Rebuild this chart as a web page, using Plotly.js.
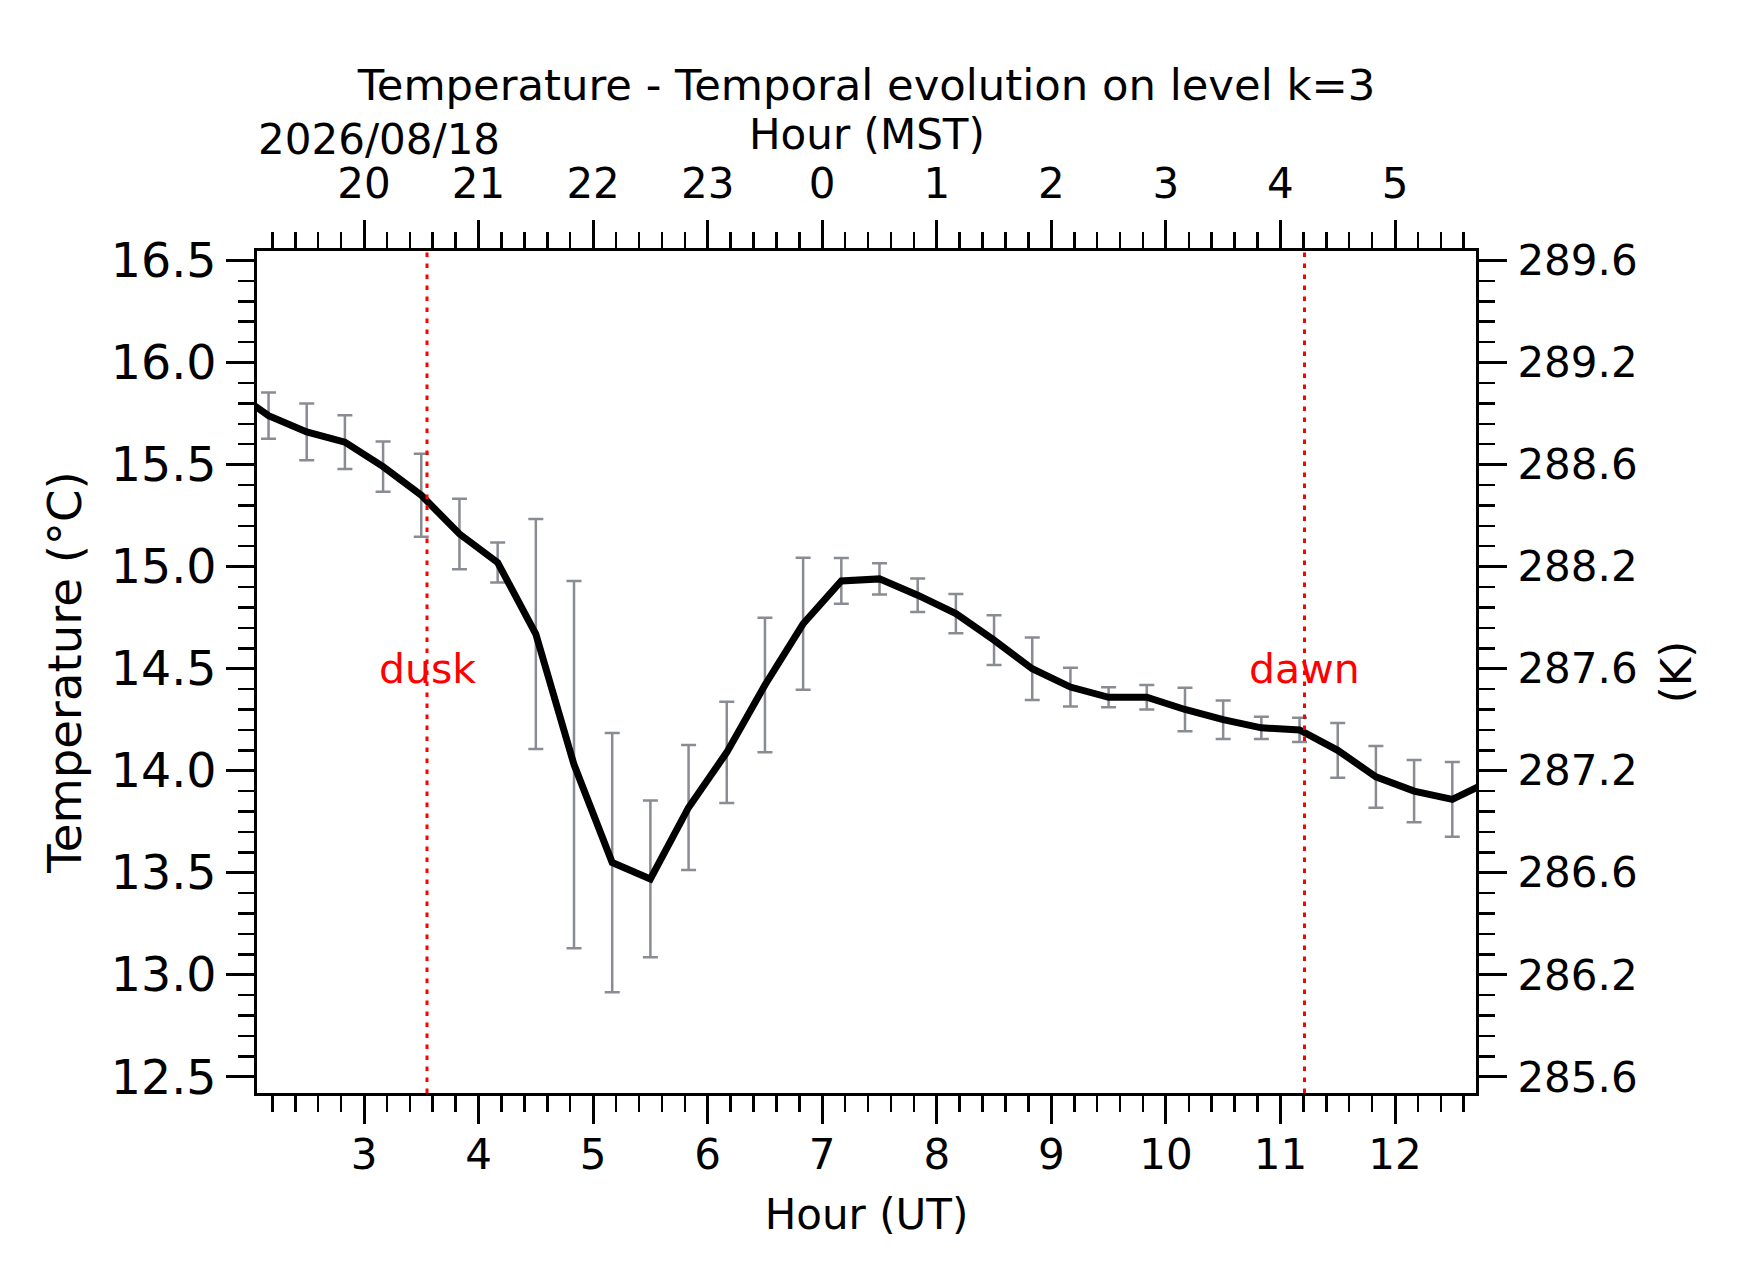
<!DOCTYPE html>
<html>
<head>
<meta charset="utf-8">
<script src="https://cdn.plot.ly/plotly-3.0.1.min.js"></script>
<style>
  html, body { margin: 0; padding: 0; background: #ffffff; }
  #chart { width: 1742px; height: 1282px; }
</style>
</head>
<body>
<div id="chart"></div>
<script>
// ---- data ----
const hoursUT = [1.8333, 2.1667, 2.5, 2.8333, 3.1667, 3.5, 3.8333, 4.1667, 4.5, 4.8333,
                 5.1667, 5.5, 5.8333, 6.1667, 6.5, 6.8333, 7.1667, 7.5, 7.8333, 8.1667,
                 8.5, 8.8333, 9.1667, 9.5, 9.8333, 10.1667, 10.5, 10.8333, 11.1667, 11.5,
                 11.8333, 12.1667, 12.5, 12.8333];
const tempC = [15.87, 15.74, 15.66, 15.61, 15.49, 15.35, 15.16, 15.02, 14.67, 14.03,
               13.55, 13.47, 13.82, 14.09, 14.42, 14.72, 14.93, 14.94, 14.86, 14.77,
               14.64, 14.50, 14.41, 14.36, 14.36, 14.30, 14.25, 14.21, 14.20, 14.10,
               13.97, 13.90, 13.86, 13.95];
const tempErr = [0, 0.113, 0.139, 0.132, 0.123, 0.203, 0.173, 0.098, 0.563, 0.90,
                 0.635, 0.384, 0.306, 0.248, 0.329, 0.323, 0.112, 0.076, 0.082, 0.096,
                 0.122, 0.153, 0.095, 0.049, 0.060, 0.106, 0.094, 0.054, 0.059, 0.134,
                 0.151, 0.152, 0.183, 0];

const utTickVals = [3, 4, 5, 6, 7, 8, 9, 10, 11, 12];
const utTickText = ['3', '4', '5', '6', '7', '8', '9', '10', '11', '12'];
const mstTickText = ['20', '21', '22', '23', '0', '1', '2', '3', '4', '5'];
const cTickVals = [12.5, 13.0, 13.5, 14.0, 14.5, 15.0, 15.5, 16.0, 16.5];
const cTickText = ['12.5', '13.0', '13.5', '14.0', '14.5', '15.0', '15.5', '16.0', '16.5'];
const kTickText = ['285.6', '286.2', '286.6', '287.2', '287.6', '288.2', '288.6', '289.2', '289.6'];

const eventNames = ['dusk', 'dawn'];
const eventHours = [3.55, 11.21];
const eventLabelLevel = 14.5;

const dateLabel = '2026/08/18';
const chartTitle = 'Temperature - Temporal evolution on level k=3';

// ---- chart ----
const FONT = 'DejaVu Sans, Liberation Sans, sans-serif';
const xRange = [2.066, 12.707];
const yRange = [12.421, 16.5465];

const axisCommon = {
  showline: true, linecolor: '#000', linewidth: 3,
  ticks: 'outside', ticklen: 28, tickwidth: 3, tickcolor: '#000',
  showgrid: false, zeroline: false, fixedrange: true
};

const traces = [
  {
    x: hoursUT, y: tempC, type: 'scatter', mode: 'lines',
    line: { color: '#000000', width: 7 },
    error_y: { type: 'data', array: tempErr, visible: true,
               color: '#898c93', thickness: 2.5, width: 7.5 },
    xaxis: 'x', yaxis: 'y', showlegend: false, hoverinfo: 'skip'
  },
  { x: [], y: [], xaxis: 'x2', yaxis: 'y2', type: 'scatter', mode: 'lines', showlegend: false }
];

const shapes = eventHours.map(h => ({
  type: 'line', xref: 'x', yref: 'paper', x0: h, x1: h, y0: 0, y1: 1,
  line: { color: '#ff0000', width: 3, dash: '4.5px,6.5px' }
}));

const annotations = eventNames.map((n, i) => ({
  text: n, x: eventHours[i], y: eventLabelLevel, xref: 'x', yref: 'y',
  showarrow: false, xanchor: 'center', yanchor: 'middle',
  font: { family: FONT, size: 41, color: '#ff0000' }
}));
annotations.push({
  text: dateLabel, xref: 'paper', yref: 'paper', x: 0, y: 1.1325,
  xanchor: 'left', yanchor: 'middle', showarrow: false, borderpad: 0,
  font: { family: FONT, size: 42, color: '#000' }
});
annotations.push({
  text: 'Hour (MST)', xref: 'paper', yref: 'paper', x: 0.5, y: 1.138,
  xanchor: 'center', yanchor: 'middle', showarrow: false, borderpad: 0,
  font: { family: FONT, size: 42, color: '#000' }
});

const layout = {
  width: 1742, height: 1282,
  margin: { l: 257, r: 266, t: 251, b: 189, pad: 0 },
  paper_bgcolor: '#ffffff', plot_bgcolor: '#ffffff',
  font: { family: FONT, color: '#000' },
  title: { text: chartTitle, font: { family: FONT, size: 43.3, color: '#000' },
           x: 0.5, xref: 'paper', xanchor: 'center', y: 0.9335, yref: 'container', yanchor: 'middle' },
  xaxis: Object.assign({}, axisCommon, {
    range: xRange, side: 'bottom', anchor: 'y',
    tickmode: 'array', tickvals: utTickVals, ticktext: utTickText,
    tickfont: { family: FONT, size: 42 }, ticklabelstandoff: -5,
    minor: { dtick: 0.2, tick0: 0, ticks: 'outside', ticklen: 16, tickwidth: 2.5, tickcolor: '#000' },
    title: { text: 'Hour (UT)', font: { family: FONT, size: 42 }, standoff: 22 }
  }),
  xaxis2: Object.assign({}, axisCommon, {
    range: xRange, side: 'top', overlaying: 'x', anchor: 'y2',
    tickmode: 'array', tickvals: utTickVals, ticktext: mstTickText,
    tickfont: { family: FONT, size: 42 }, ticklabelstandoff: 5,
    minor: { dtick: 0.2, tick0: 0, ticks: 'outside', ticklen: 16, tickwidth: 2.5, tickcolor: '#000' }
  }),
  yaxis: Object.assign({}, axisCommon, {
    range: yRange, side: 'left', anchor: 'x',
    tickmode: 'array', tickvals: cTickVals, ticktext: cTickText,
    tickfont: { family: FONT, size: 47.5 },
    minor: { dtick: 0.1, tick0: 0, ticks: 'outside', ticklen: 16, tickwidth: 2.5, tickcolor: '#000' },
    title: { text: 'Temperature (°C)', font: { family: FONT, size: 46.5 }, standoff: 15 }
  }),
  yaxis2: Object.assign({}, axisCommon, {
    range: yRange, side: 'right', overlaying: 'y', anchor: 'x2',
    tickmode: 'array', tickvals: cTickVals, ticktext: kTickText,
    tickfont: { family: FONT, size: 42 }, ticklabelstandoff: 2,
    minor: { dtick: 0.1, tick0: 0, ticks: 'outside', ticklen: 16, tickwidth: 2.5, tickcolor: '#000' },
    title: { text: '(K)', font: { family: FONT, size: 43.5 }, standoff: 24 }
  }),
  shapes: shapes,
  annotations: annotations,
  showlegend: false
};

Plotly.newPlot('chart', traces, layout, { displayModeBar: false, staticPlot: true });
</script>
</body>
</html>
